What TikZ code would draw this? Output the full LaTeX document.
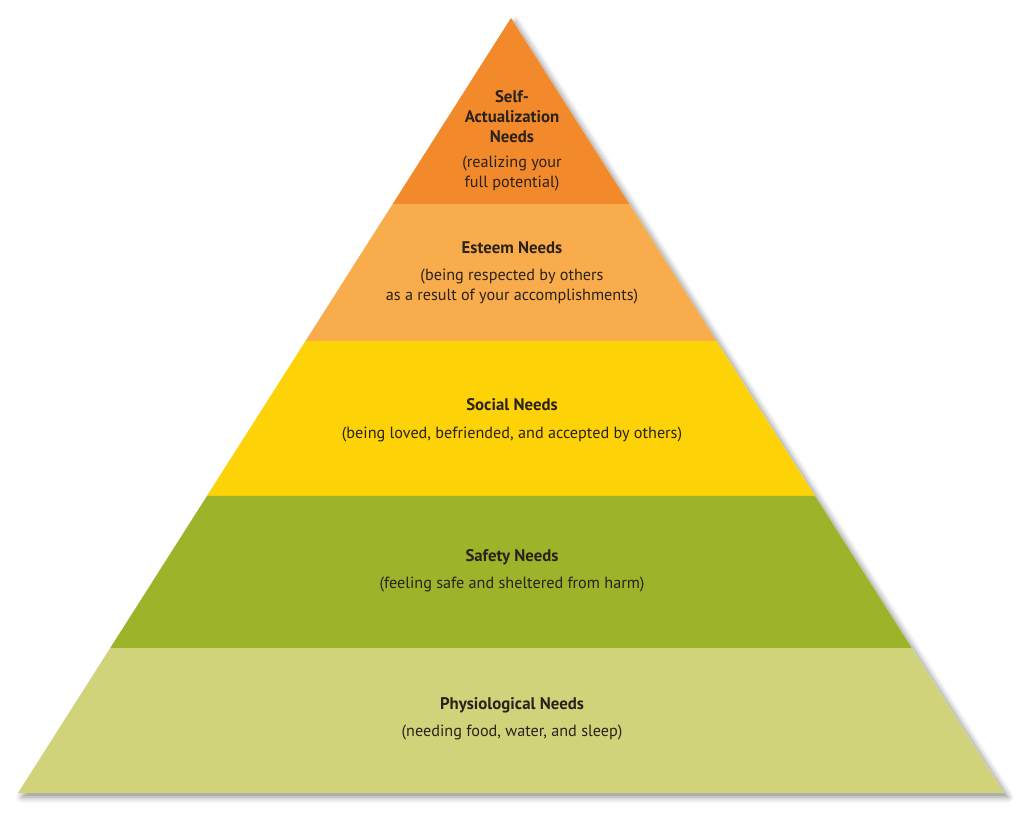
\documentclass[tikz,border=0pt]{standalone}
\usepackage{fontspec}
\setmainfont{PT Sans}
\usetikzlibrary{calc,shadows.blur}
\definecolor{cSelf}{HTML}{F2892B}
\definecolor{cEsteem}{HTML}{F9AC4B}
\definecolor{cSocial}{HTML}{FDD206}
\definecolor{cSafety}{HTML}{9DB32A}
\definecolor{cPhys}{HTML}{D1D37A}
\definecolor{cText}{HTML}{2A2219}
\tikzset{
  ttl/.style={font=\fontsize{16.8bp}{20bp}\selectfont\bfseries, text=cText, align=center, inner sep=0pt},
  sub/.style={font=\fontsize{16.2bp}{20bp}\selectfont, text=cText, align=center, inner sep=0pt},
}
\begin{document}
\begin{tikzpicture}[x=1bp,y=-1bp]
\useasboundingbox (0,0) rectangle (1024,813);
\coordinate (A) at (511,18);
\coordinate (L) at (18,793);
\coordinate (R) at (1004,793);
% shadow
\fill[blur shadow={shadow xshift=4bp, shadow yshift=-4bp, shadow blur radius=6bp, shadow opacity=45}, white] (A) -- (L) -- (R) -- cycle;
% band boundary coordinates (t = (y-18)/775)
\foreach \n/\y in {a/204,b/341,c/496,d/648}{
  \pgfmathsetmacro\t{(\y-18)/775}
  \coordinate (L\n) at ($(A)!\t!(L)$);
  \coordinate (R\n) at ($(A)!\t!(R)$);
}
\fill[cSelf] (A) -- (La) -- (Ra) -- cycle;
\fill[cEsteem] (La) -- (Lb) -- (Rb) -- (Ra) -- cycle;
\fill[cSocial] (Lb) -- (Lc) -- (Rc) -- (Rb) -- cycle;
\fill[cSafety] (Lc) -- (Ld) -- (Rd) -- (Rc) -- cycle;
\fill[cPhys] (Ld) -- (L) -- (R) -- (Rd) -- cycle;
% labels
\node[ttl] (t1) at (512,117) {Self-\\Actualization\\Needs};
\node[sub] (s1) at (512,174) {(realizing your\\full potential)};
\node[ttl] (t2) at (512,248) {Esteem Needs};
\node[sub] (s2) at (512,287) {(being respected by others\\as a result of your accomplishments)};
\node[ttl] (t3) at (512,405) {Social Needs};
\node[sub] (s3) at (512,435) {(being loved, befriended, and accepted by others)};
\node[ttl] (t4) at (512,557) {Safety Needs};
\node[sub] (s4) at (512,585) {(feeling safe and sheltered from harm)};
\node[ttl] (t5) at (512,705) {Physiological Needs};
\node[sub] (s5) at (512,733) {(needing food, water, and sleep)};
\end{tikzpicture}
\end{document}
